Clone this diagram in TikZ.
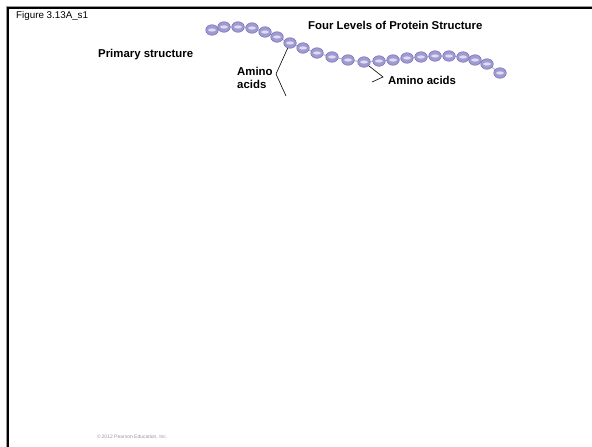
\documentclass[tikz,border=0pt]{standalone}
\usepackage{fontspec}
\setmainfont{Liberation Sans}
\usetikzlibrary{shapes.geometric}
\definecolor{beadfill}{HTML}{9F9AD2}
\definecolor{beadshine}{HTML}{DEDCF3}
\definecolor{beadrim}{HTML}{7D77B7}
\definecolor{chaincol}{HTML}{B8B6D2}
\definecolor{framegray}{HTML}{9A9A9A}
\begin{document}
\begin{tikzpicture}[x=1pt,y=-1pt,
  bead/.style={ellipse, minimum width=12.5pt, minimum height=10.5pt, inner sep=0pt,
    draw=beadrim, line width=0.6pt, fill=beadfill},
  shine/.style={fill=beadshine},
  chain/.style={draw=chaincol, line width=1pt},
  lbl/.style={font=\bfseries\fontsize{11.4}{13}\selectfont, inner sep=0pt, anchor=base west},
  small/.style={font=\fontsize{9.8}{11}\selectfont, inner sep=0pt, anchor=base west},
  credit/.style={font=\fontsize{5}{6}\selectfont, text=framegray, inner sep=0pt, anchor=base west},
  callout/.style={draw=black, line width=0.6pt}]
\useasboundingbox (0,0) rectangle (592,447);
\fill[white] (0,0) rectangle (592,447);

% slide frame (only the top and left edges fall inside the page)
\draw[framegray, line width=1pt] (6.3,470) -- (6.3,6.3) -- (610,6.3);
\draw[black, line width=2.2pt] (8,470) -- (8,8) -- (610,8);

% polypeptide chain: bead centres
\foreach \i/\x/\y in {1/212/30, 2/224/27, 3/238/27, 4/252/28, 5/265/32, 6/277/37,
    7/290/43, 8/303/48, 9/317/53, 10/332/57, 11/348/60, 12/364/62, 13/379/61,
    14/393/60, 15/407/58, 16/421/57, 17/435/56, 18/449/56, 19/463/57, 20/475/60,
    21/487/64, 22/500/73}
  \coordinate (p\i) at (\x,\y);
\draw[chain] (p1) \foreach \i in {2,...,22} { -- (p\i) };
\foreach \i in {1,...,22} {
  \node[bead] (b\i) at (p\i) {};
  \fill[shine] (p\i) ellipse (3.8pt and 1.6pt);
}

% labels
\node[small] (fig) at (16,18.5) {Figure 3.13A\_s1};
\node[lbl] (title) at (308,30) {Four Levels of Protein Structure};
\node[lbl] (prim) at (98,57) {Primary structure};
\node[lbl] (aaL1) at (237,75) {Amino};
\node[lbl] (aaL2) at (237,88) {acids};
\node[lbl] (aaR) at (388,84) {Amino acids};
\node[credit] (copy) at (97,438) {\textcopyright\,2012 Pearson Education, Inc.};

% callout lines
\coordinate (va) at (276,74);
\coordinate (ea) at (286,96);
\draw[callout] (b7) -- (va) -- (ea);
\coordinate (vb) at (383,77);
\coordinate (eb) at (372,82);
\draw[callout] (b12) -- (vb) -- (eb);
\end{tikzpicture}
\end{document}
